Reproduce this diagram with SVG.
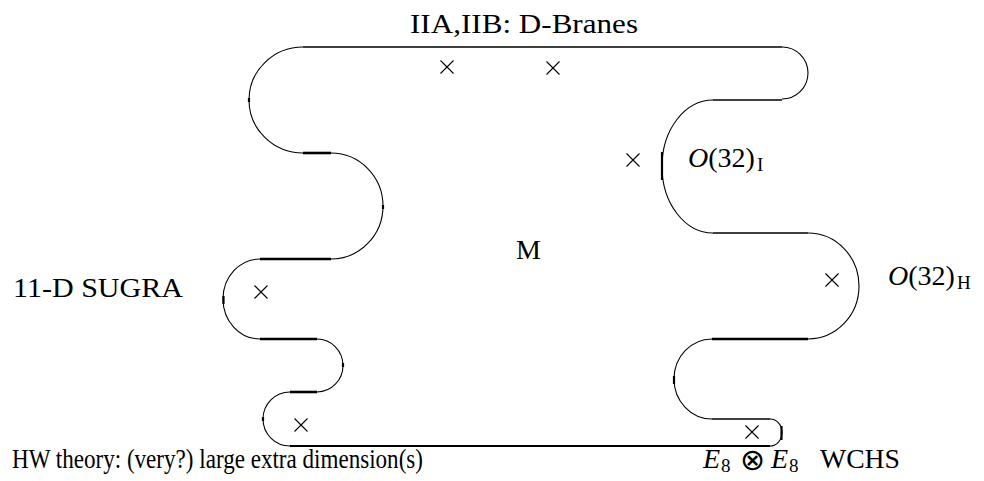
<svg xmlns="http://www.w3.org/2000/svg" width="984" height="481" viewBox="0 0 984 481">
<style>
.t{font-family:"Liberation Serif","Times New Roman",serif;font-size:28px;fill:#000}
.it{font-style:italic}
.sub{font-size:19px}
.op{font-family:"DejaVu Sans",sans-serif;font-size:30px}
.arc{fill:none;stroke:#000;stroke-width:1.1}
.ln{fill:none;stroke:#000;stroke-width:1.7}
.tk{fill:none;stroke:#000;stroke-width:2.6}
.tick{fill:none;stroke:#000;stroke-width:2.2}
.x{fill:none;stroke:#000;stroke-width:1.1}
</style>
<defs>
<path id="cross" d="M-6.5,-6.5 L6.5,6.5 M-6.5,6.5 L6.5,-6.5"/>
</defs>
<rect width="984" height="481" fill="#fff"/>
<g id="connectors">
<g id="arcs">
<path class="arc" d="M303,47 A54,53 0 0 0 303,153"/>
<path class="arc" d="M331,153 A52,53 0 0 1 331,259"/>
<path class="arc" d="M260,259 A37,40 0 0 0 260,339"/>
<path class="arc" d="M317,339 A26,26.5 0 0 1 317,392"/>
<path class="arc" d="M290,392 A27,27 0 0 0 290,446"/>
<path class="arc" d="M770,446 A12,13.5 0 0 0 770,419"/>
<path class="arc" d="M712,419 A38,40 0 0 1 712,339"/>
<path class="arc" d="M808,339 A51,53 0 0 0 808,233"/>
<path class="arc" d="M713,233 A51,66.5 0 0 1 713,100"/>
<path class="arc" d="M782,99 A26,26 0 0 0 782,47"/>
</g>
<g id="lines">
<path class="ln" d="M303,47 H782"/>
<path class="tk" d="M303,153 H331"/>
<path class="tk" d="M331,259 H260"/>
<path class="tk" d="M260,339 H317"/>
<path class="tk" d="M317,392 H290"/>
<path class="ln" style="stroke-width:2" d="M290,446 H770"/>
<path class="ln" style="stroke-width:1.4" d="M770,419 H712"/>
<path class="tk" d="M712,339 H808"/>
<path class="ln" d="M808,233 H713"/>
<path class="ln" d="M713,100 H782"/>
</g>
<g id="ticks">
<path class="tick" d="M662,152 V180"/>
<path class="tick" d="M223.5,296 V304"/>
<path class="tick" d="M781.5,426 V440"/>
<path class="tick" d="M674,376 V384"/>
<path class="tick" d="M249,98 V102"/>
<path class="tick" d="M383,205 V209"/>
<path class="tick" d="M343,363 V367"/>
<path class="tick" d="M263,417 V421"/>
</g>
</g>
<g id="crosses">
<use href="#cross" class="x" x="447" y="67"/>
<use href="#cross" class="x" x="553" y="68"/>
<use href="#cross" class="x" x="633" y="160"/>
<use href="#cross" class="x" x="832" y="280"/>
<use href="#cross" class="x" x="261" y="292"/>
<use href="#cross" class="x" x="301" y="425"/>
<use href="#cross" class="x" x="752" y="432"/>
</g>
<g id="label-top"><text class="t" x="410" y="33" textLength="228" lengthAdjust="spacingAndGlyphs">IIA,IIB: D-Branes</text></g>
<g id="label-M"><text class="t" x="516" y="259">M</text></g>
<g id="label-sugra"><text class="t" x="13" y="297" textLength="170" lengthAdjust="spacingAndGlyphs">11-D SUGRA</text></g>
<g id="label-hw"><text class="t" x="12" y="468" textLength="411" lengthAdjust="spacingAndGlyphs">HW theory: (very?) large extra dimension(s)</text></g>
<g id="label-o32i"><text class="t" x="688" y="167"><tspan class="it">O</tspan>(32)<tspan class="sub" dx="2" dy="4">I</tspan></text></g>
<g id="label-o32h"><text class="t" x="888" y="285"><tspan class="it">O</tspan>(32)<tspan class="sub" dx="2" dy="4">H</tspan></text></g>
<g id="label-e8"><text class="t" x="703" y="468"><tspan class="it">E</tspan><tspan class="sub" x="721" dy="4">8</tspan><tspan class="op" x="740" dy="-2">⊗</tspan><tspan class="it" x="771" dy="-2">E</tspan><tspan class="sub" x="789" dy="4">8</tspan><tspan x="820" dy="-4" textLength="80" lengthAdjust="spacingAndGlyphs">WCHS</tspan></text></g>
</svg>
